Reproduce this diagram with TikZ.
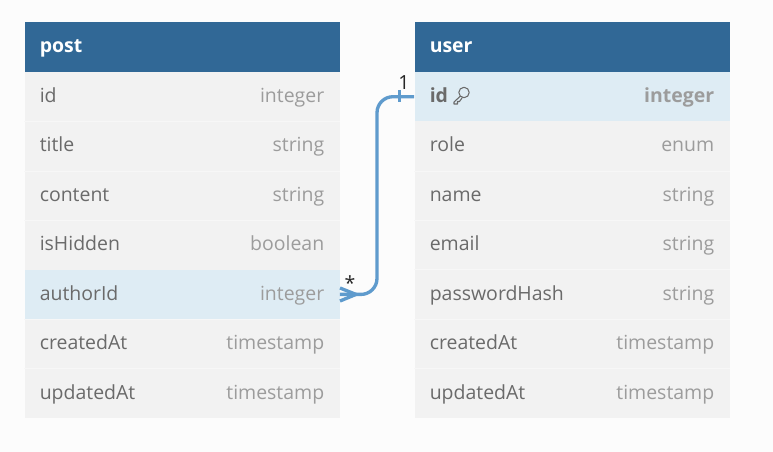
\documentclass[tikz,border=0pt]{standalone}
\usepackage{fontspec}
\setmainfont{Open Sans}
\definecolor{headblue}{HTML}{316896}
\definecolor{rowgray}{HTML}{F2F2F2}
\definecolor{rowline}{HTML}{F7F7F7}
\definecolor{rowhigh}{HTML}{DEECF4}
\definecolor{namegray}{HTML}{6A6A6A}
\definecolor{typegray}{HTML}{9C9C9C}
\definecolor{linkblue}{HTML}{5F9BCD}
\definecolor{pagegray}{HTML}{FCFCFC}
\tikzset{
  headbox/.style={fill=headblue,draw=none,minimum width=236.25pt,minimum height=37.2pt,inner sep=0pt},
  rowbox/.style={fill=rowgray,draw=none,minimum width=236.25pt,minimum height=37.05pt,inner sep=0pt},
  highbox/.style={rowbox,fill=rowhigh},
  headtext/.style={white,font=\fontsize{14.6}{16}\selectfont\bfseries,anchor=base west,inner sep=0pt,yshift=-0.5pt},
  nametext/.style={namegray,font=\fontsize{14.6}{16}\selectfont,anchor=base west,inner sep=0pt,yshift=-0.5pt},
  typetext/.style={typegray,font=\fontsize{14.6}{16}\selectfont,anchor=base east,inner sep=0pt,yshift=-0.5pt},
  multtext/.style={black!85,font=\fontsize{14.6}{16}\selectfont,inner sep=0pt},
  linkline/.style={draw=linkblue,line width=2.5pt},
}
\begin{document}
\begin{tikzpicture}[x=0.75pt,y=-0.75pt]
    \useasboundingbox[fill=pagegray] (0,0) rectangle (773,452);

    % Tabelle post
    \node[headbox] (postHead) at (182,47) {};
    \node[rowbox] (postId) at (182,96.7) {};
    \node[rowbox] (postTitle) at (182,146.1) {};
    \node[rowbox] (postContent) at (182,195.5) {};
    \node[rowbox] (postHidden) at (182,245) {};
    \node[highbox] (postAuthor) at (182,294.4) {};
    \node[rowbox] (postCreated) at (182,343.8) {};
    \node[rowbox] (postUpdated) at (182,393.3) {};

    % Tabelle user
    \node[headbox] (userHead) at (572,47) {};
    \node[highbox] (userId) at (572,96.7) {};
    \node[rowbox] (userRole) at (572,146.1) {};
    \node[rowbox] (userName) at (572,195.5) {};
    \node[rowbox] (userEmail) at (572,245) {};
    \node[rowbox] (userHash) at (572,294.4) {};
    \node[rowbox] (userCreated) at (572,343.8) {};
    \node[rowbox] (userUpdated) at (572,393.3) {};

    % Trennlinien
    \draw[rowline,line width=0.75pt] (postId.south west) -- (postId.south east);
    \draw[rowline,line width=0.75pt] (postTitle.south west) -- (postTitle.south east);
    \draw[rowline,line width=0.75pt] (postContent.south west) -- (postContent.south east);
    \draw[rowline,line width=0.75pt] (postAuthor.south west) -- (postAuthor.south east);
    \draw[rowline,line width=0.75pt] (postCreated.south west) -- (postCreated.south east);
    \draw[rowline,line width=0.75pt] (userRole.south west) -- (userRole.south east);
    \draw[rowline,line width=0.75pt] (userName.south west) -- (userName.south east);
    \draw[rowline,line width=0.75pt] (userEmail.south west) -- (userEmail.south east);
    \draw[rowline,line width=0.75pt] (userHash.south west) -- (userHash.south east);
    \draw[rowline,line width=0.75pt] (userCreated.south west) -- (userCreated.south east);

    % Beschriftung post
    \node[headtext] (postHeadText) at (39.5,52) {post};
    \node[nametext] (postIdName) at (39.5,102) {id};
    \node[typetext] (postIdType) at (324.5,102) {integer};
    \node[nametext] (postTitleName) at (39.5,151) {title};
    \node[typetext] (postTitleType) at (324.5,151) {string};
    \node[nametext] (postContentName) at (39.5,201) {content};
    \node[typetext] (postContentType) at (324.5,201) {string};
    \node[nametext] (postHiddenName) at (39.5,250) {isHidden};
    \node[typetext] (postHiddenType) at (324.5,250) {boolean};
    \node[nametext] (postAuthorName) at (39.5,300) {authorId};
    \node[typetext] (postAuthorType) at (324.5,300) {integer};
    \node[nametext] (postCreatedName) at (39.5,349) {createdAt};
    \node[typetext] (postCreatedType) at (324.5,349) {timestamp};
    \node[nametext] (postUpdatedName) at (39.5,399) {updatedAt};
    \node[typetext] (postUpdatedType) at (324.5,399) {timestamp};

    % Beschriftung user
    \node[headtext] (userHeadText) at (429.5,52) {user};
    \node[nametext,font=\fontsize{14.6}{16}\selectfont\bfseries] (userIdName) at (429.5,102) {id};
    \node[typetext,font=\fontsize{14.6}{16}\selectfont\bfseries] (userIdType) at (714.5,102) {integer};
    \node[nametext] (userRoleName) at (429.5,151) {role};
    \node[typetext] (userRoleType) at (714.5,151) {enum};
    \node[nametext] (userNameName) at (429.5,201) {name};
    \node[typetext] (userNameType) at (714.5,201) {string};
    \node[nametext] (userEmailName) at (429.5,250) {email};
    \node[typetext] (userEmailType) at (714.5,250) {string};
    \node[nametext] (userHashName) at (429.5,300) {passwordHash};
    \node[typetext] (userHashType) at (714.5,300) {string};
    \node[nametext] (userCreatedName) at (429.5,349) {createdAt};
    \node[typetext] (userCreatedType) at (714.5,349) {timestamp};
    \node[nametext] (userUpdatedName) at (429.5,399) {updatedAt};
    \node[typetext] (userUpdatedType) at (714.5,399) {timestamp};

    % Schluessel-Symbol
    \draw[namegray,line width=0.8pt,line join=round] (464,92.5) circle (3.9pt)
      (460.5,96) -- (454,102) -- (454,104) -- (457.5,104) -- (457.5,101.5) -- (459.5,101.5) -- (462,98);

    % Verbindung
    \draw[linkline,rounded corners=12pt] (postAuthor.east) -- (377,294.4) -- (377,96.7) -- (userId.west);
    \coordinate (footTip) at (356,294.4);
    \coordinate (footUp) at (340,288);
    \coordinate (footDown) at (340,301);
    \draw[linkline] (footUp) -- (footTip) -- (footDown);
    \coordinate (barUp) at (399.5,90.5);
    \coordinate (barDown) at (399.5,102.5);
    \draw[linkline] (barUp) -- (barDown);

    % Kardinalitaet
    \node[multtext] (multOne) at (404,83) {1};
    \node[multtext] (multMany) at (350,283) {*};
\end{tikzpicture}
\end{document}
